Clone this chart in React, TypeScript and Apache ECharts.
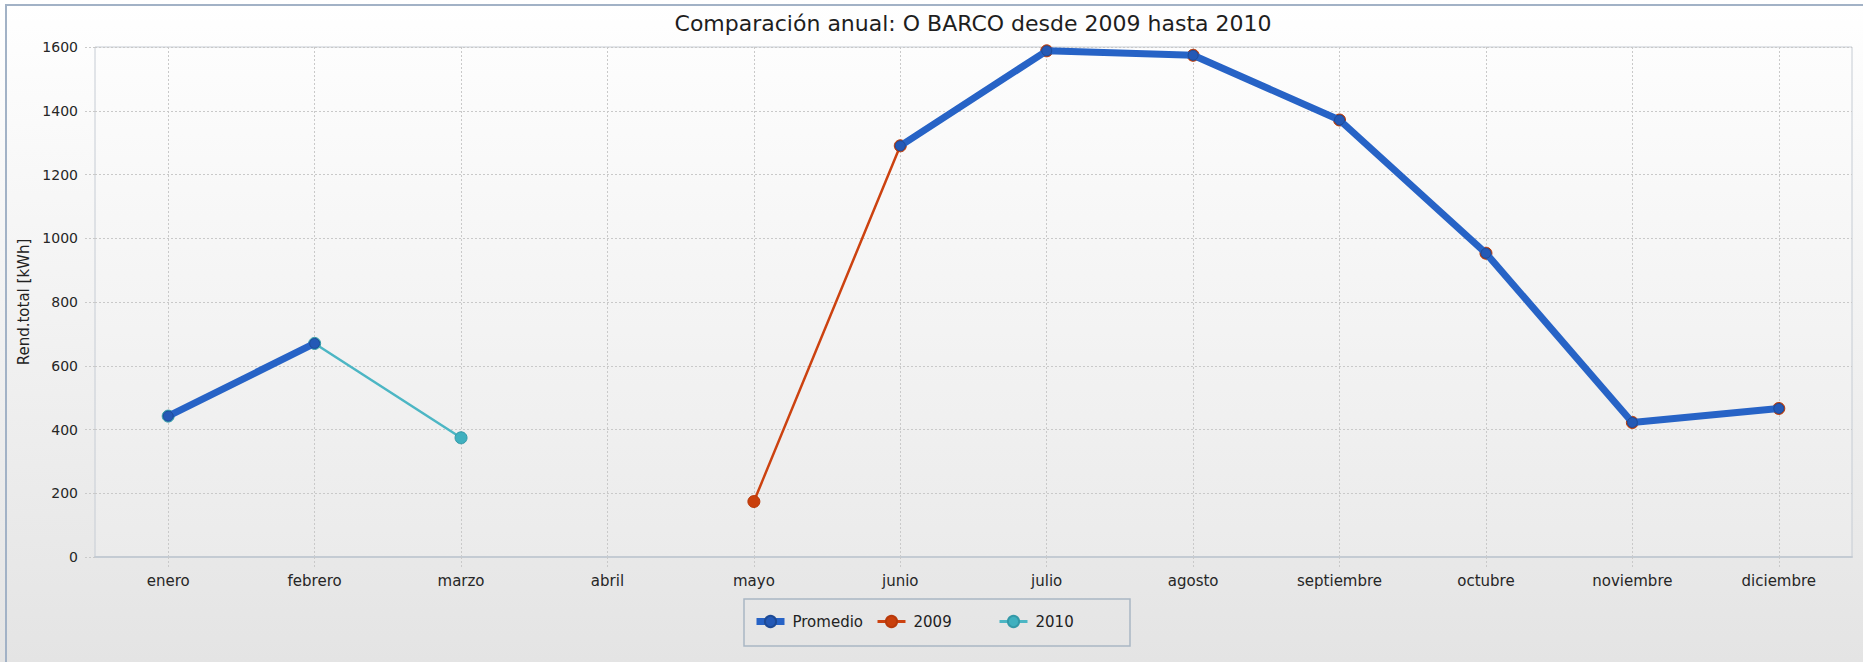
import { useEffect, useRef } from "react";
import * as echarts from "echarts";

const months = [
  "enero", "febrero", "marzo", "abril", "mayo", "junio",
  "julio", "agosto", "septiembre", "octubre", "noviembre", "diciembre",
];
const promedio = [442, 670, null, null, null, 1290, 1588, 1574, 1371, 953, 422, 466];
const serie2009 = [null, null, null, null, 174, 1290, 1588, 1574, 1371, 953, 422, 466];
const serie2010 = [442, 670, 374, null, null, null, null, null, null, null, null, null];
const legendNames = ["Promedio", "2009", "2010"];
const yMin = 0;
const yMax = 1600;
const yStep = 200;
const titleText = "Comparación anual: O BARCO desde 2009 hasta 2010";
const yAxisTitle = "Rend.total [kWh]";

const FONT = "DejaVu Sans";

export default function App() {
  const ref = useRef<HTMLDivElement>(null);
  useEffect(() => {
    if (!ref.current) return;
    const chart = echarts.init(ref.current, null, { renderer: "svg" });
    const dotted = { color: "#c9c9c9", width: 1, type: [2, 2] as number[] };
    const legendLefts = [753, 876, 998];
    const legendLineWidths = [7, 3, 3];
    const legends = legendNames.map((name, i) => ({
      data: [{ name, lineStyle: { width: legendLineWidths[i] } }],
      left: legendLefts[i],
      top: 614,
      padding: 0,
      itemWidth: 28,
      itemHeight: 14,
      textStyle: {
        fontFamily: FONT,
        fontSize: 15,
        color: "#222",
        padding: [0, 0, 0, 3],
      },
    }));
    chart.setOption({
      animation: false,
      backgroundColor: new echarts.graphic.LinearGradient(0, 0, 0, 1, [
        { offset: 0, color: "#ffffff" },
        { offset: 1, color: "#e4e4e4" },
      ]),
      title: {
        text: titleText,
        left: 973,
        top: 12,
        textAlign: "center",
        padding: 0,
        textStyle: { fontFamily: FONT, fontSize: 22, fontWeight: "normal", color: "#1e1e1e" },
      },
      grid: {
        left: 95,
        right: 11,
        top: 47,
        bottom: 105,
        show: true,
        backgroundColor: new echarts.graphic.LinearGradient(0, 0, 0, 1, [
          { offset: 0, color: "#fdfdfd" },
          { offset: 1, color: "#ebebeb" },
        ]),
        borderColor: "#c6ccd4",
        borderWidth: 1,
      },
      legend: legends,
      xAxis: {
        type: "category",
        data: months,
        boundaryGap: true,
        axisLine: { show: true, lineStyle: { color: "#c4cbd3", width: 2 } },
        axisTick: { show: true, alignWithLabel: true, interval: 0, length: 10, lineStyle: dotted },
        splitLine: { show: true, alignWithLabel: true, interval: 0, lineStyle: dotted },
        axisLabel: { interval: 0, margin: 16, fontFamily: FONT, fontSize: 15, color: "#262626" },
      },
      yAxis: {
        type: "value",
        min: yMin,
        max: yMax,
        interval: yStep,
        name: yAxisTitle,
        nameLocation: "middle",
        nameGap: 56,
        nameTextStyle: { fontFamily: FONT, fontSize: 15, color: "#222" },
        axisLine: { show: false },
        axisTick: { show: true, length: 10, lineStyle: dotted },
        splitLine: { show: true, lineStyle: dotted },
        axisLabel: {
          margin: 17,
          fontFamily: FONT,
          fontSize: 14,
          color: "#262626",
          formatter: (v: number) => String(v),
        },
      },
      series: [
        {
          name: "2009",
          type: "line",
          data: serie2009,
          z: 2,
          symbol: "circle",
          symbolSize: 12,
          showSymbol: true,
          connectNulls: false,
          lineStyle: { width: 2.5, color: "#cc4210" },
          itemStyle: { color: "#c9400c", borderColor: "#b8390a", borderWidth: 1 },
        },
        {
          name: "2010",
          type: "line",
          data: serie2010,
          z: 2,
          symbol: "circle",
          symbolSize: 12,
          showSymbol: true,
          connectNulls: false,
          lineStyle: { width: 2.5, color: "#4cb6c4" },
          itemStyle: { color: "#3fb0bf", borderColor: "#3399a8", borderWidth: 1 },
        },
        {
          name: "Promedio",
          type: "line",
          data: promedio,
          z: 3,
          symbol: "circle",
          symbolSize: 10,
          showSymbol: true,
          connectNulls: false,
          lineStyle: { width: 7, color: "#2763c6" },
          itemStyle: { color: "#2459b6", borderColor: "#1d4a95", borderWidth: 1 },
        },
      ],
      graphic: [
        {
          type: "rect",
          silent: true,
          shape: { x: 744, y: 599, width: 386, height: 47 },
          style: { fill: "none", stroke: "#a9b6c4", lineWidth: 1.5 },
        },
        {
          type: "rect",
          silent: true,
          shape: { x: 6, y: 5, width: 1950, height: 750 },
          style: { fill: "none", stroke: "#a2b2c6", lineWidth: 2 },
        },
      ],
    });
    return () => chart.dispose();
  }, []);
  return (
    <div
      ref={ref}
      style={{ position: "fixed", left: 0, top: 0, width: 1863, height: 662 }}
    />
  );
}
